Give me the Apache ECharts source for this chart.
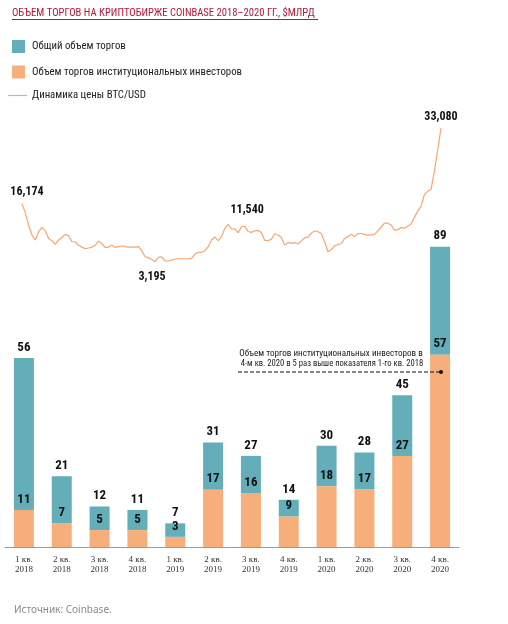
<!DOCTYPE html>
<html>
<head>
<meta charset="utf-8">
<script src="https://cdn.jsdelivr.net/npm/echarts@6/dist/echarts.min.js"></script>
<style>
html,body{margin:0;padding:0;background:#fff;}
#c{width:508px;height:624px;}
</style>
</head>
<body>
<div id="c"></div>
<script>
// ---- data ----
var categories = ['1 кв.\n2018','2 кв.\n2018','3 кв.\n2018','4 кв.\n2018',
                  '1 кв.\n2019','2 кв.\n2019','3 кв.\n2019','4 кв.\n2019',
                  '1 кв.\n2020','2 кв.\n2020','3 кв.\n2020','4 кв.\n2020'];
var totalVolume = [56, 21, 12, 11, 7, 31, 27, 14, 30, 28, 45, 89];
var institutionalVolume = [11, 7, 5, 5, 3, 17, 16, 9, 18, 17, 27, 57];
// BTC/USD price path (2018–2020)
var btcPrice = [16174,14100,11300,9150,8050,9900,10850,10100,8400,7900,
  7050,8050,8600,9300,9000,7650,7650,6850,6450,6100,
  6250,6450,6850,7800,7200,6400,6400,6850,6400,6550,
  6700,6550,6450,6450,6450,6550,5650,4300,4100,3700,
  3195,4150,4300,3400,3350,3550,3800,3850,3850,3850,
  3850,3950,4900,5300,5300,5650,6550,8050,8700,7900,
  8800,10650,11540,10500,10550,9650,11000,11150,9950,9750,
  10100,10200,9650,7950,7900,8200,9450,9150,8550,6900,
  7500,7300,7450,7150,7800,8550,8700,9600,10050,9900,
  9500,7650,5400,5900,6700,7050,7200,8400,8800,9350,
  8800,9500,9500,9300,9150,9200,9300,10050,10950,11800,
  11800,11400,10250,10350,10850,10650,11100,11600,13100,14500,
  15600,18200,18950,19350,23300,28100,33080];
var labeledPrices = {0: {pos:'top', off:[5,0]}, 40: {pos:'bottom', off:[-3,3]}, 62: {pos:'top', off:[19,-2]}, 126: {pos:'top', off:[0,1]}};

var titleText = 'ОБЪЕМ ТОРГОВ НА КРИПТОБИРЖЕ COINBASE 2018–2020 ГГ., $МЛРД';
var nameTotal = 'Общий объем торгов';
var nameInst = 'Объем торгов институциональных инвесторов';
var namePrice = 'Динамика цены BTC/USD';
var noteLines = ['Объем торгов институциональных инвесторов в', '4-м кв. 2020 в 5 раз выше показателя 1-го кв. 2018'];
var sourceText = 'Источник: Coinbase.';

// ---- styles ----
var TEAL = '#63aeb8', ORANGE = '#f6ae7b', LINE = '#f7a673', RED = '#b3173b';
var NARROW = '"Roboto Condensed","DejaVu Sans Condensed",sans-serif';

var tealPart = totalVolume.map(function(t, i){ return t - institutionalVolume[i]; });
var priceIdx = btcPrice.map(function(_, i){ return i; });
var priceData = btcPrice.map(function(v, i){
  var l = labeledPrices[i];
  if (!l) return v;
  return {value: v, label: {show: true, position: l.pos, offset: l.off, distance: 6}};
});

var chart = echarts.init(document.getElementById('c'), null, {renderer: 'canvas'});
chart.setOption({
  animation: false,
  backgroundColor: '#fff',
  title: {
    text: titleText, left: 12, top: 8, padding: 0,
    textStyle: {fontFamily: NARROW, fontSize: 10.6, fontWeight: 'normal', color: RED}
  },
  legend: [{
    left: 12, top: 40, padding: 0, orient: 'vertical', itemWidth: 13, itemHeight: 13, itemGap: 12.5,
    selectedMode: false, icon: 'rect',
    textStyle: {fontFamily: NARROW, fontSize: 10.8, color: '#222', padding: [0,0,0,2]},
    data: [nameTotal, nameInst]
  }, {
    left: 8, top: 90, padding: 0, orient: 'vertical', itemWidth: 19, itemHeight: 1.2,
    selectedMode: false, icon: 'rect',
    textStyle: {fontFamily: NARROW, fontSize: 10.8, color: '#222'},
    data: [namePrice]
  }],
  grid: [
    {left: 5, right: 49, top: 209.5, bottom: 77},
    {left: 22, right: 67, top: 97, bottom: 348}
  ],
  xAxis: [{
    gridIndex: 0, type: 'category', data: categories,
    axisTick: {show: false},
    axisLine: {lineStyle: {color: '#9a9a9a', width: 1}},
    axisLabel: {margin: 8, fontFamily: '"Liberation Serif",serif', fontSize: 9, lineHeight: 10, color: '#333'}
  }, {
    gridIndex: 1, type: 'category', data: priceIdx, boundaryGap: false, show: false
  }],
  yAxis: [{
    gridIndex: 0, type: 'value', min: 0, max: 100, show: false
  }, {
    gridIndex: 1, type: 'value', min: 0, max: 40000, show: false
  }],
  series: [{
    name: nameInst, type: 'bar', stack: 'v', xAxisIndex: 0, yAxisIndex: 0,
    barWidth: 20, z: 3,
    itemStyle: {color: ORANGE},
    label: {show: true, position: 'top', distance: 4, fontFamily: NARROW, fontWeight: 'bold', fontSize: 13, color: '#111'},
    data: institutionalVolume
  }, {
    name: nameTotal, type: 'bar', stack: 'v', xAxisIndex: 0, yAxisIndex: 0,
    barWidth: 20, z: 2,
    itemStyle: {color: TEAL},
    label: {show: true, position: 'top', distance: 4, fontFamily: NARROW, fontWeight: 'bold', fontSize: 13, color: '#111',
      formatter: function(p){ return totalVolume[p.dataIndex]; }},
    data: tealPart
  }, {
    name: namePrice, type: 'line', xAxisIndex: 1, yAxisIndex: 1,
    showSymbol: true, showAllSymbol: true, symbol: 'circle', symbolSize: 0.01, smooth: false,
    lineStyle: {color: LINE, width: 1.2},
    itemStyle: {color: LINE},
    label: {show: false, fontFamily: NARROW, fontWeight: 'bold', fontSize: 12, color: '#111',
      formatter: function(p){ return p.value.toLocaleString('en-US'); }},
    emphasis: {disabled: true},
    data: priceData
  }],
  graphic: [
    {type: 'line', shape: {x1: 12, y1: 19.5, x2: 318, y2: 19.5}, style: {stroke: RED, lineWidth: 1}},
    {type: 'text', x: 331, y: 354, style: {text: noteLines[0], fontFamily: NARROW, fontSize: 9.1, fill: '#222', align: 'center', verticalAlign: 'middle'}, z: 10},
    {type: 'text', x: 332, y: 364, style: {text: noteLines[1], fontFamily: NARROW, fontSize: 8.6, fill: '#222', align: 'center', verticalAlign: 'middle'}, z: 10},
    {type: 'line', shape: {x1: 238, y1: 372, x2: 440, y2: 372}, style: {stroke: '#111', lineWidth: 1, lineDash: [4, 2]}, z: 10},
    {type: 'circle', shape: {cx: 441, cy: 372, r: 2}, style: {fill: '#111'}, z: 10},
    {type: 'text', x: 14, y: 610, style: {text: sourceText, fontFamily: '"Noto Sans",sans-serif', fontSize: 10, fill: '#8a8a8a', verticalAlign: 'middle'}}
  ]
});
</script>
</body>
</html>
